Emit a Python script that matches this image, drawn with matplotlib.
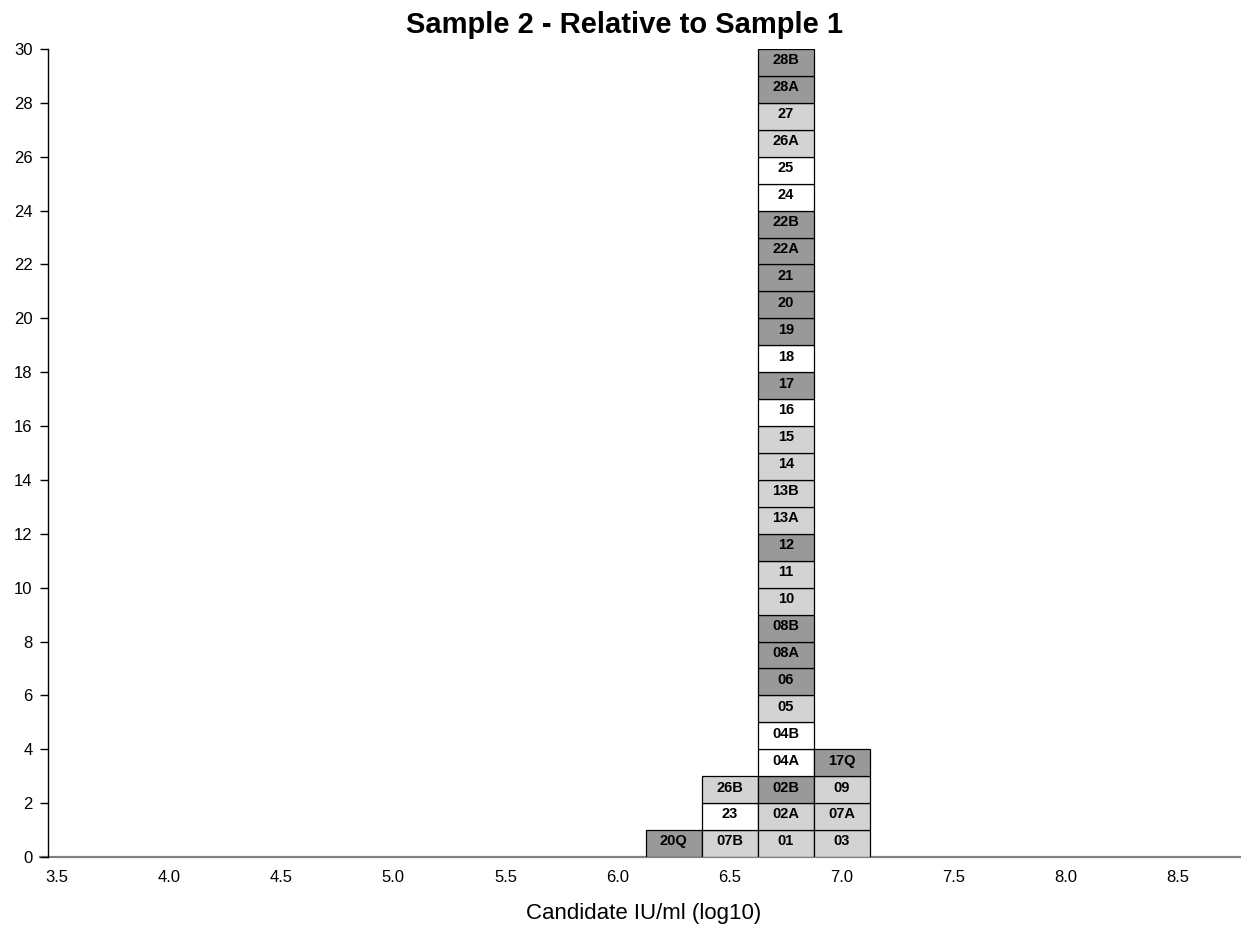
import matplotlib
matplotlib.use("Agg")
import matplotlib.pyplot as plt

plt.rcParams['font.family'] = ['Liberation Sans', 'DejaVu Sans']

# bin centres (log10 IU/ml) and the labs stacked in each bin, bottom to top
bin_centres = [6.25, 6.5, 6.75, 7.0]
bin_labels = [
    ["20Q"],
    ["07B", "23", "26B"],
    ["01", "02A", "02B", "04A", "04B", "05", "06", "08A", "08B", "10",
     "11", "12", "13A", "13B", "14", "15", "16", "17", "18", "19",
     "20", "21", "22A", "22B", "24", "25", "26A", "27", "28A", "28B"],
    ["03", "07A", "09", "17Q"],
]
# shade group per box: 'd' dark, 'l' light, 'w' white
bin_shades = [
    ["d"],
    ["l", "w", "l"],
    ["l", "l", "d", "w", "w", "l", "d", "d", "d", "l",
     "l", "d", "l", "l", "l", "l", "w", "d", "w", "d",
     "d", "d", "d", "d", "w", "w", "l", "l", "d", "d"],
    ["l", "l", "l", "d"],
]
shade_colours = {"d": "#999999", "l": "#d3d3d3", "w": "#ffffff"}

x_ticks = [3.5, 4.0, 4.5, 5.0, 5.5, 6.0, 6.5, 7.0, 7.5, 8.0, 8.5]
y_ticks = list(range(0, 31, 2))
bin_width = 0.25

W, H = 1241, 934
fig = plt.figure(figsize=(W / 100, H / 100), dpi=100)
ax = fig.add_axes([48 / W, 1 - 857 / H, (W - 48) / W, (857 - 49) / H])

for centre, labels, shades in zip(bin_centres, bin_labels, bin_shades):
    for i, (lab, sh) in enumerate(zip(labels, shades)):
        ax.bar(centre, 1, width=bin_width, bottom=i, color=shade_colours[sh],
               edgecolor="black", linewidth=0.9, zorder=2)
        ax.text(centre, i + 0.58, lab, ha="center", va="center",
                fontsize=10.5, fontweight="bold", zorder=3)

ax.set_xlim(3.46, 8.78)
ax.set_ylim(0, 30)
ax.set_xticks(x_ticks)
ax.set_xticklabels([f"{t:.1f}" for t in x_ticks])
ax.set_yticks(y_ticks)

for s in ["top", "right", "bottom"]:
    ax.spines[s].set_visible(False)
ax.spines["left"].set_color("black")
ax.spines["left"].set_linewidth(1.0)
ax.axhline(0, xmin=-8 / (W - 48), xmax=1, color="#808080", linewidth=1.6,
           clip_on=False, zorder=1)

ax.tick_params(axis="x", length=0, pad=9, labelsize=12)
ax.tick_params(axis="y", length=6, width=1, pad=5, labelsize=12)

fig.text(625 / W, 1 - 33 / H, "Sample 2 - Relative to Sample 1",
         ha="center", va="baseline", fontsize=21, fontweight="bold")
fig.text(644 / W, 1 - 913 / H, "Candidate IU/ml (log10)",
         ha="center", va="center", fontsize=16)

fig.savefig("out.png", dpi=100)
